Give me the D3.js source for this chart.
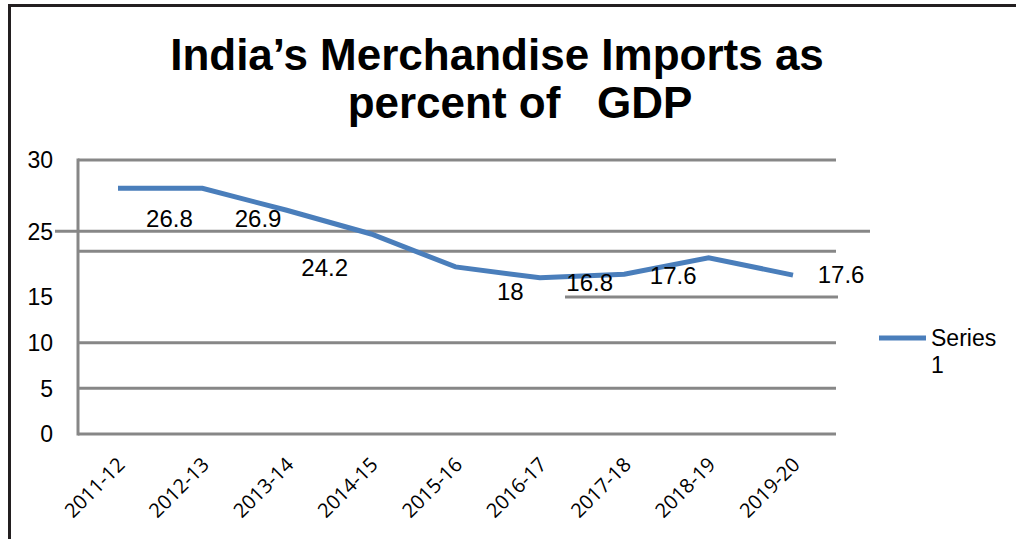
<!DOCTYPE html>
<html lang="en">
<head>
<meta charset="UTF-8">
<title>India's Merchandise Imports</title>
<script src="https://d3js.org/d3.v7.min.js"></script>
<style>
  body { margin: 0; background: #fff; }
  svg { display: block; font-family: "Liberation Sans", Arial, sans-serif; }
</style>
</head>
<body>
<svg width="1016" height="539"></svg>
<script>
// years on the x axis
const years = ["2011-12", "2012-13", "2013-14", "2014-15", "2015-16", "2016-17", "2017-18", "2018-19", "2019-20"];
// line values as drawn (percent of GDP)
const imports = [26.9, 26.9, 24.5, 21.9, 18.3, 17.1, 17.5, 19.3, 17.4];
// data label texts as printed on the chart
const labelText = ["26.8", "26.9", "24.2", "18", "16.8", "17.6", "17.6"];
// y tick labels and the value level they sit at
const yTickText = ["30", "25", "15", "10", "5", "0"];
const yTickLevel = [30, 22.2, 15, 10, 5, 0];
const seriesName = "Series 1";

const svg = d3.select("svg");

// frame
svg.append("path")
    .attr("d", "M9.5,540 V5.5 H1016")
    .attr("fill", "none")
    .attr("stroke", "#231f20")
    .attr("stroke-width", 3);

// title
svg.append("text")
    .attr("x", 497).attr("y", 70)
    .attr("text-anchor", "middle")
    .style("font-size", "44px").style("font-weight", "bold")
    .text("India\u2019s Merchandise Imports as");
svg.append("text")
    .attr("x", 520).attr("y", 118)
    .attr("text-anchor", "middle")
    .attr("xml:space", "preserve")
    .style("white-space", "pre")
    .style("font-size", "44px").style("font-weight", "bold")
    .text("percent of   GDP");

const x = d3.scalePoint().domain(years).range([118, 793]);
const y = d3.scaleLinear().domain([0, 30]).range([434, 160]);
const step = x.step();
const plotL = 78, plotR = 836;

// gridlines
const grid = svg.append("g").attr("stroke", "#878787").attr("stroke-width", 3);
[0, 5, 10, 20, 30].forEach(v => {
    grid.append("line")
        .attr("x1", plotL).attr("x2", plotR)
        .attr("y1", y(v)).attr("y2", y(v));
});
// the odd partial 15 line and the shifted 25 line
grid.append("line").attr("x1", 565).attr("x2", 838).attr("y1", y(15)).attr("y2", y(15));
grid.append("line").attr("x1", 55).attr("x2", 870).attr("y1", y(22.2)).attr("y2", y(22.2));
// y axis line
grid.append("line").attr("x1", plotL).attr("x2", plotL).attr("y1", y(30) - 1.5).attr("y2", y(0) + 1.5);

// y tick labels
svg.append("g").selectAll("text")
    .data(yTickText)
    .join("text")
    .attr("x", 53)
    .attr("y", (d, i) => y(yTickLevel[i]))
    .attr("dy", "0.36em")
    .attr("text-anchor", "end")
    .style("font-size", "23px")
    .text(d => d);

// x labels, rotated
svg.append("g").selectAll("text")
    .data(years)
    .join("text")
    .attr("transform", d => `translate(${x(d) + 8},466) rotate(-45)`)
    .attr("text-anchor", "end")
    .style("font-family", "'Open Sans', sans-serif")
    .style("font-size", "20px")
    .text(d => d);

// the line
const line = d3.line()
    .x((d, i) => x(years[i]))
    .y(d => y(d));
svg.append("path")
    .datum(imports)
    .attr("d", line)
    .attr("fill", "none")
    .attr("stroke", "#4a7ebb")
    .attr("stroke-width", 5);

// data labels, placed in category / value units
const labelSlot = [0.61, 1.66, 2.45, 4.65, 5.59, 6.58, 8.57];
const labelLevel = [22.67, 22.67, 17.3, 14.67, 15.66, 16.42, 16.53];
svg.append("g").selectAll("text")
    .data(labelText)
    .join("text")
    .attr("x", (d, i) => x(years[0]) + labelSlot[i] * step)
    .attr("y", (d, i) => y(labelLevel[i]))
    .attr("text-anchor", "middle")
    .style("font-size", "24px")
    .text(d => d);

// legend
const lg = svg.append("g");
lg.append("line")
    .attr("x1", 879).attr("x2", 926)
    .attr("y1", 338).attr("y2", 338)
    .attr("stroke", "#4a7ebb").attr("stroke-width", 5);
const parts = seriesName.split(" ");
lg.append("text").attr("x", 931).attr("y", 346).style("font-size", "23px").text(parts[0]);
lg.append("text").attr("x", 931).attr("y", 373).style("font-size", "23px").text(parts[1]);
</script>
</body>
</html>
